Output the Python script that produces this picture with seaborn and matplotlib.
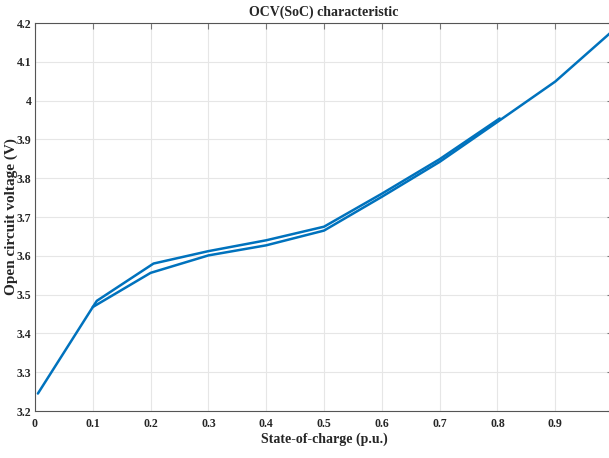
import matplotlib
matplotlib.use("Agg")
import matplotlib.pyplot as plt
import matplotlib.ticker as mticker
import seaborn as sns
import pandas as pd

# Data
soc_a = [0.005, 0.1, 0.2, 0.3, 0.4, 0.5, 0.6, 0.7, 0.8, 0.9, 0.995]
ocv_a = [3.245, 3.468, 3.556, 3.601, 3.627, 3.665, 3.752, 3.842, 3.945, 4.049, 4.174]
soc_b = [0.1, 0.107, 0.205, 0.3, 0.4, 0.5, 0.6, 0.7, 0.804]
ocv_b = [3.468, 3.484, 3.580, 3.612, 3.640, 3.675, 3.760, 3.849, 3.954]

x_ticks = [0, 0.1, 0.2, 0.3, 0.4, 0.5, 0.6, 0.7, 0.8, 0.9]
y_ticks = [3.2, 3.3, 3.4, 3.5, 3.6, 3.7, 3.8, 3.9, 4.0, 4.1, 4.2]

df = pd.concat([
    pd.DataFrame({"soc": soc_a, "ocv": ocv_a, "run": "a"}),
    pd.DataFrame({"soc": soc_b, "ocv": ocv_b, "run": "b"}),
])

sns.set_style("white")
plt.rcParams["font.family"] = ["Liberation Serif", "DejaVu Serif"]

fig = plt.figure(figsize=(6.09, 4.58), dpi=100)
ax = fig.add_axes([35 / 609, 1 - 411 / 458, 578 / 609, 388 / 458])

sns.lineplot(data=df, x="soc", y="ocv", units="run", estimator=None, sort=False,
             color="#0072BD", linewidth=1.8, ax=ax, legend=False)

ax.set_xlim(0, 1.0)
ax.set_ylim(3.2, 4.2)
ax.set_xticks(x_ticks)
ax.set_yticks(y_ticks)
ax.xaxis.set_major_formatter(mticker.FormatStrFormatter("%g"))
ax.yaxis.set_major_formatter(mticker.FormatStrFormatter("%g"))
ax.grid(True, color="#e6e6e6", linewidth=0.8)
ax.set_axisbelow(True)
for s in ax.spines.values():
    s.set_color("#555555")
    s.set_linewidth(0.8)
    s.set_visible(True)
ax.tick_params(direction="in", length=4, color="#777777", top=True, right=True,
               labelsize=8.5, pad=2.5)
ax.tick_params(axis="x", pad=5)
for lab in ax.get_xticklabels() + ax.get_yticklabels():
    lab.set_fontweight("bold")

ax.set_title("OCV(SoC) characteristic", fontsize=10, fontweight="bold", pad=5)
ax.set_xlabel("State-of-charge (p.u.)", fontsize=10, fontweight="bold", labelpad=2)
ax.set_ylabel("Open circuit voltage (V)", fontsize=11, fontweight="bold")
ax.yaxis.set_label_coords(-0.030, 0.5)

fig.savefig("out.png", dpi=100)
